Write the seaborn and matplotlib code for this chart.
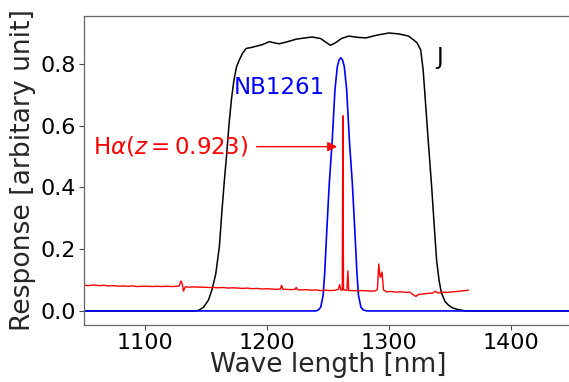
import matplotlib
matplotlib.use("Agg")
import matplotlib.pyplot as plt
import seaborn as sns
import pandas as pd

# J filter response
j_wave = [1050, 1100, 1140, 1144, 1148, 1152, 1155, 1158, 1161, 1163, 1165, 1167, 1169, 1171, 1173,
          1175, 1177, 1180, 1183, 1187, 1191, 1196, 1202, 1206, 1210, 1217, 1224, 1231, 1237,
          1244, 1249, 1252, 1256, 1261, 1267, 1274, 1281, 1290, 1300, 1308, 1316, 1320, 1323,
          1326, 1328, 1330, 1332, 1335, 1337, 1339, 1341, 1343, 1346, 1349, 1352, 1357, 1363,
          1400, 1450]
j_resp = [0.0, 0.0, 0.0, 0.002, 0.012, 0.035, 0.07, 0.12, 0.21, 0.32, 0.42, 0.51, 0.61, 0.69, 0.75,
          0.79, 0.81, 0.835, 0.85, 0.853, 0.857, 0.862, 0.872, 0.868, 0.865, 0.872, 0.88, 0.884, 0.887,
          0.882, 0.868, 0.86, 0.868, 0.882, 0.89, 0.886, 0.884, 0.893, 0.90, 0.897, 0.89, 0.878, 0.868,
          0.845, 0.78, 0.67, 0.56, 0.40, 0.28, 0.165, 0.10, 0.058, 0.03, 0.018, 0.01, 0.004, 0.0,
          0.0, 0.0]

# NB1261 filter response
nb_wave = [1050, 1200, 1240, 1242, 1244, 1246, 1247.3, 1249, 1251, 1253.5, 1255.7, 1257.6, 1259, 1260.5,
           1262, 1263.4, 1265.3, 1267.5, 1270, 1272, 1273.7, 1275, 1277, 1279, 1282, 1300, 1450]
nb_resp = [0.0, 0.0, 0.0, 0.003, 0.012, 0.05, 0.123, 0.26, 0.41, 0.554, 0.716, 0.79, 0.812, 0.82,
           0.812, 0.79, 0.716, 0.554, 0.41, 0.26, 0.123, 0.05, 0.012, 0.003, 0.0, 0.0, 0.0]

# Observed spectrum (Halpha at z=0.923)
sp_wave = [1050, 1054, 1058, 1062, 1066, 1070, 1074, 1078, 1082, 1086, 1090, 1094, 1098, 1102, 1106,
           1110, 1114, 1118, 1122, 1126, 1128, 1129.5, 1130.5, 1131.5, 1133, 1136, 1140, 1144, 1148,
           1152, 1156, 1160, 1164, 1168, 1172, 1176, 1180, 1184, 1188, 1192, 1196, 1200, 1204, 1208,
           1211, 1212, 1213, 1216, 1220, 1223, 1224, 1225, 1228, 1232, 1236, 1240, 1244, 1248, 1252,
           1256, 1258.5, 1259.5, 1260.5, 1261.7, 1262.2, 1262.7, 1265.5, 1266.3, 1267, 1270, 1274,
           1278, 1282, 1286, 1289, 1290.5, 1291.6, 1292.7, 1293.2, 1294.3, 1295.5, 1298, 1302, 1306,
           1310, 1314, 1317, 1320, 1322, 1324, 1328, 1332, 1336, 1338, 1340, 1344, 1348, 1352, 1356,
           1360, 1365]
sp_flux = [0.083, 0.082, 0.084, 0.082, 0.083, 0.081, 0.082, 0.080, 0.081, 0.080, 0.081, 0.079, 0.080,
           0.080, 0.079, 0.080, 0.079, 0.080, 0.079, 0.080, 0.081, 0.097, 0.088, 0.064, 0.078, 0.077,
           0.078, 0.077, 0.077, 0.076, 0.076, 0.075, 0.076, 0.074, 0.075, 0.074, 0.073, 0.074, 0.072,
           0.073, 0.071, 0.072, 0.071, 0.070, 0.071, 0.083, 0.070, 0.070, 0.069, 0.070, 0.076, 0.069,
           0.068, 0.069, 0.067, 0.068, 0.066, 0.067, 0.066, 0.067, 0.070, 0.085, 0.068, 0.068, 0.632,
           0.068, 0.067, 0.13, 0.066, 0.066, 0.065, 0.066, 0.065, 0.064, 0.065, 0.070, 0.152, 0.11,
           0.11, 0.126, 0.068, 0.062, 0.063, 0.061, 0.062, 0.060, 0.061, 0.052, 0.047, 0.053, 0.055,
           0.057, 0.058, 0.064, 0.058, 0.061, 0.060, 0.062, 0.063, 0.065, 0.067]

sns.set_style("ticks")
plt.rcParams['font.family'] = ['DejaVu Sans']
plt.rcParams['mathtext.fontset'] = 'dejavusans'

fig = plt.figure(figsize=(5.69, 3.82), dpi=100)
ax = fig.add_axes([84 / 569, 57 / 382, 488 / 569, 309 / 382])

dj = pd.DataFrame({"w": j_wave, "r": j_resp})
dn = pd.DataFrame({"w": nb_wave, "r": nb_resp})
ds = pd.DataFrame({"w": sp_wave, "r": sp_flux})

sns.lineplot(data=dj, x="w", y="r", ax=ax, color="black", lw=1.1, estimator=None, sort=False)
sns.lineplot(data=dn, x="w", y="r", ax=ax, color="blue", lw=1.2, estimator=None, sort=False)
sns.lineplot(data=ds, x="w", y="r", ax=ax, color="red", lw=1.0, estimator=None, sort=False)

ax.set_xlim(1050, 1450)
ax.set_ylim(-0.0455, 0.955)
ax.set_xticks([1100, 1200, 1300, 1400])
ax.set_yticks([0.0, 0.2, 0.4, 0.6, 0.8])
ax.tick_params(labelsize=16, length=3.5, width=0.8, colors='0.3', labelcolor='black', pad=2.5)
for s in ax.spines.values():
    s.set_color('0.4')
    s.set_linewidth(0.9)

ax.set_xlabel("Wave length [nm]", fontsize=19, labelpad=-1)
ax.set_ylabel("Response [arbitary unit]", fontsize=19.2, labelpad=3)

ax.text(1173, 0.725, "NB1261", color="blue", fontsize=16.5, va="center", ha="left")
ax.text(1338.5, 0.82, "J", color="black", fontsize=16.5, va="center", ha="left")
ax.annotate(r"H$\alpha (z=0.923)$", xy=(1257.5, 0.532), xytext=(1057, 0.532),
            color="red", fontsize=16.5, va="center", ha="left",
            arrowprops=dict(arrowstyle="-|>", color="red", lw=1.0, mutation_scale=14, shrinkA=4, shrinkB=0))

fig.savefig("out.png", dpi=100)
